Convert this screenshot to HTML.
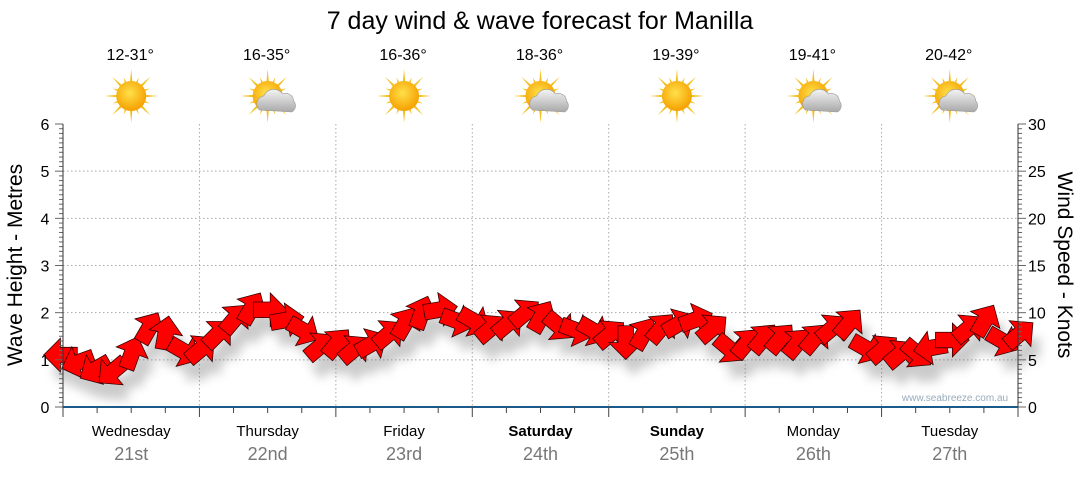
<!DOCTYPE html>
<html><head><meta charset="utf-8">
<style>
body{margin:0;background:#fff;}
svg text{font-family:"Liberation Sans","DejaVu Sans",sans-serif;}
</style></head>
<body>
<svg width="1080" height="475" viewBox="0 0 1080 475" xmlns="http://www.w3.org/2000/svg">
<defs>
<filter id="sh" x="-50%" y="-50%" width="200%" height="200%"><feGaussianBlur stdDeviation="5"/></filter>
<radialGradient id="sun" cx="45%" cy="40%" r="60%"><stop offset="0" stop-color="#ffe04a"/><stop offset="1" stop-color="#f5a000"/></radialGradient>
<linearGradient id="cloud" x1="0" y1="0" x2="0" y2="1"><stop offset="0" stop-color="#f4f4f4"/><stop offset="1" stop-color="#a8a8a8"/></linearGradient>
</defs>
<text x="540" y="29" text-anchor="middle" font-size="25" fill="#000">7 day wind &amp; wave forecast for Manilla</text>
<g id="grid"></g>
<g id="shadows" filter="url(#sh)" opacity="0.3"></g>
<g id="arrows"></g>
<g id="axes"></g>
<g id="top"></g>
<text x="955" y="401" text-anchor="middle" font-size="10" fill="#9ab">www.seabreeze.com.au</text>
<text transform="translate(22,265) rotate(-90)" text-anchor="middle" font-size="21" fill="#000">Wave Height - Metres</text>
<text transform="translate(1058,265) rotate(90)" text-anchor="middle" font-size="21" fill="#000">Wind Speed - Knots</text>
</svg>
<script>
const days=["Wednesday","Thursday","Friday","Saturday","Sunday","Monday","Tuesday"];
const dates=["21st","22nd","23rd","24th","25th","26th","27th"];
const bold=[false,false,false,true,true,false,false];
const temps=["12-31°","16-35°","16-36°","18-36°","19-39°","19-41°","20-42°"];
const cloudy=[false,true,false,true,false,true,true];
const waveTicks=[0,1,2,3,4,5,6];
const windTicks=[0,5,10,15,20,25,30];
// 3-hourly wind speed (knots) and direction (screen degrees the arrow points)
const windSpeed=[5.5,4.8,4.1,3.9,5.5,8.2,7.6,6.0,6.0,7.6,9.2,10.3,10.3,9.2,8.2,6.3,6.6,6.0,6.6,7.6,8.7,9.8,10.3,9.2,9.2,8.2,8.7,9.8,9.4,8.7,8.2,8.2,7.6,7.1,7.6,8.2,8.7,9.2,8.2,6.3,6.6,7.1,7.1,6.6,7.1,8.2,8.7,6.3,6.0,5.5,5.8,6.3,7.1,8.2,9.0,7.1,7.6];
const windDir=[180,160,150,140,-70,-60,-80,30,-40,-45,-50,-60,0,-10,30,-40,-50,-40,-30,-40,-60,-70,-10,20,30,-40,-40,-40,-60,40,20,30,-40,90,-60,-50,-30,-20,-40,40,-50,-50,-50,-50,-50,-40,-50,30,-40,-40,40,170,0,-40,-60,30,-40];
const X0=63,X1=1018,Y0=407,Y1=124;
const xh=h=>X0+(X1-X0)*h/168;
const yw=m=>Y0-(Y0-Y1)*m/6;
const yk=k=>Y0-(Y0-Y1)*k/30;
const NS="http://www.w3.org/2000/svg";
function mk(t,a,p){const e=document.createElementNS(NS,t);for(const k in a)e.setAttribute(k,a[k]);p.appendChild(e);return e;}
const grid=document.getElementById('grid'),axes=document.getElementById('axes'),top_=document.getElementById('top');
waveTicks.forEach((m,i)=>{
  if(m>0&&m<6){const l=mk('line',{x1:X0,x2:X1,y1:yw(m),y2:yw(m),stroke:'#aaa','stroke-dasharray':'1.5,2.5'},grid);
  }
  const t=mk('text',{x:45,y:yw(m)+6,'font-size':16,'text-anchor':'middle',fill:'#000'},axes);t.textContent=m;
  
});
windTicks.forEach(k=>{
  const t=mk('text',{x:1028,y:yk(k)+6,'font-size':16,fill:'#000'},axes);t.textContent=k;
  
});
for(let v=0;v<=60;v++){const y=Y0-(Y0-Y1)*v/60;const L=v%10==0?8:4;
  mk('line',{x1:X0-L,x2:X0,y1:y,y2:y,stroke:'#666'},axes);}
for(let v=0;v<=60;v++){const y=Y0-(Y0-Y1)*v/60;const L=v%10==0?8:4;
  mk('line',{x1:X1,x2:X1+L,y1:y,y2:y,stroke:'#666'},axes);}
mk('line',{x1:X0,x2:X0,y1:Y1,y2:Y0,stroke:'#333'},axes);
mk('line',{x1:X1,x2:X1,y1:Y1,y2:Y0,stroke:'#333'},axes);
const bx=mk('line',{x1:X0,x2:X1,y1:Y0,y2:Y0,stroke:'#1a5a8a','stroke-width':2},axes);

for(let h=0;h<=168;h+=6){const L=h%24==0?10:6;mk('line',{x1:xh(h),x2:xh(h),y1:Y0,y2:Y0+L,stroke:'#444'},axes);}
days.forEach((d,i)=>{
  if(i>0){const l=mk('line',{x1:xh(i*24),x2:xh(i*24),y1:Y1,y2:Y0,stroke:'#aaa','stroke-dasharray':'1.5,2.5'},grid);
  }
  const cx=xh(i*24+12);
  const t=mk('text',{x:cx,y:436,'font-size':15,'text-anchor':'middle',fill:'#000','font-weight':bold[i]?'bold':'normal'},axes);t.textContent=d;
  
  const t2=mk('text',{x:cx,y:460,'font-size':18,'text-anchor':'middle',fill:'#777'},axes);t2.textContent=dates[i];
  
  const t3=mk('text',{x:cx-1,y:60,'font-size':16,'text-anchor':'middle',fill:'#000'},top_);t3.textContent=temps[i];
  
  const g=mk('g',{transform:`translate(${cx},96)`},top_);
  
  for(let r=0;r<16;r++){const a=r*Math.PI/8,len=r%2?20:27;
    mk('polygon',{points:`${Math.cos(a-0.12)*12},${Math.sin(a-0.12)*12} ${Math.cos(a)*len},${Math.sin(a)*len} ${Math.cos(a+0.12)*12},${Math.sin(a+0.12)*12}`,fill:'#f2c020'},g);}
  mk('circle',{r:15,fill:'url(#sun)'},g);
  if(cloudy[i]){mk('path',{d:'M-8,14 a8,8 0 0 1 4,-14 a11,11 0 0 1 19,-2 a8,8 0 0 1 11,7 a7,7 0 0 1 -2,11 z',fill:'url(#cloud)',stroke:'#999','stroke-width':0.6},g);}
});
const arr=document.getElementById('arrows'),sh=document.getElementById('shadows');
const P="M-11,-6 L2,-6 L2,-13 L15,0 L2,13 L2,6 L-11,6 Z";
windSpeed.forEach((s,i)=>{
  const x=xh(i*3),y=yk(s);
  const ps=mk('path',{d:P,transform:`translate(${x+8},${y+16}) rotate(${windDir[i]}) scale(1.3)`,fill:'#555'},sh);
  
  const p=mk('path',{d:P,transform:`translate(${x},${y}) rotate(${windDir[i]}) scale(1.3)`,fill:'#ff0000',stroke:'#300','stroke-width':0.6},arr);
  
});
</script>
</body></html>
